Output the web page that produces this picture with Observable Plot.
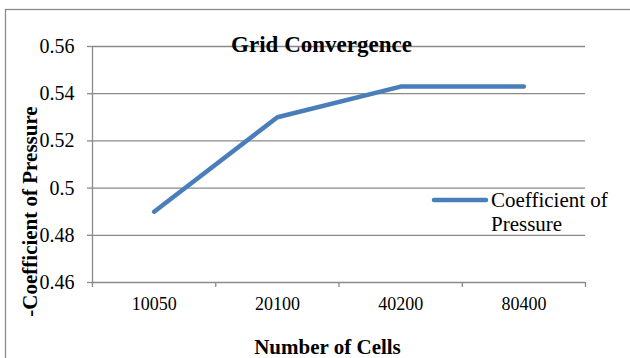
<!DOCTYPE html>
<html>
<head>
<meta charset="utf-8">
<script src="https://cdn.jsdelivr.net/npm/d3@7"></script>
<script src="https://cdn.jsdelivr.net/npm/@observablehq/plot@0.6"></script>
<style>
  html, body { margin: 0; padding: 0; background: #fff; }
  #chart svg { display: block; }
  #chart svg text { font-family: "Liberation Serif", "Times New Roman", serif; }
</style>
</head>
<body>
<div id="chart"></div>
<script>
const categories = ["10050", "20100", "40200", "80400"];
const values = [0.49, 0.53, 0.543, 0.543];
const yTicks = [0.46, 0.48, 0.5, 0.52, 0.54, 0.56];
const yTickLabels = ["0.46", "0.48", "0.5", "0.52", "0.54", "0.56"];
const title = "Grid Convergence";
const xLabel = "Number of Cells";
const yLabel = "-Coefficient of Pressure";
const seriesName = ["Coefficient of", "Pressure"];

const data = categories.map((c, i) => ({i, cat: c, v: values[i]}));
const boundaries = d3.range(categories.length + 1).map(k => k - 0.5);

const W = 630, H = 358;
const grid = "#8a8a8a";
const blue = "#4a7ebb";
const font = "Liberation Serif";

const chart = Plot.plot({
  width: W,
  height: H,
  marginLeft: 92,
  marginRight: 45,
  marginTop: 46,
  marginBottom: 76,
  style: {background: "#fff", color: "#000"},
  x: {type: "linear", domain: [-0.5, categories.length - 0.5]},
  y: {domain: [0.46, 0.56]},
  marks: [
    Plot.ruleY(yTicks.slice(1), {stroke: grid, strokeWidth: 1.3}),
    Plot.ruleY([0.46], {stroke: grid, strokeWidth: 1.3}),
    Plot.ruleX([-0.5], {stroke: grid, strokeWidth: 1.3}),
    Plot.axisY({
      ticks: yTicks,
      tickFormat: (d) => yTickLabels[yTicks.indexOf(d)],
      tickSize: 5,
      tickPadding: 13,
      stroke: grid,
      strokeWidth: 1.3,
      fontSize: 20,
      label: null
    }),
    Plot.axisX({
      ticks: boundaries,
      tickFormat: () => "",
      tickSize: 5,
      stroke: grid,
      strokeWidth: 1.3,
      label: null
    }),
    Plot.axisX({
      ticks: d3.range(categories.length),
      tickFormat: (d) => categories[d],
      tickSize: 0,
      tickPadding: 15,
      fontSize: 18,
      label: null
    }),
    Plot.line(data, {
      x: "i",
      y: "v",
      stroke: blue,
      strokeWidth: 4.5,
      strokeLinecap: "round",
      strokeLinejoin: "round"
    })
  ]
});

const svg = d3.select(chart);

// outer border
svg.insert("rect", ":first-child")
  .attr("x", 5.5).attr("y", 9.5)
  .attr("width", W + 10).attr("height", H + 20)
  .attr("fill", "none").attr("stroke", grid).attr("stroke-width", 1.3);

function addText(x, y, str, size, bold, anchor) {
  return svg.append("text")
    .attr("x", x).attr("y", y)
    .attr("fill", "#000")
    .style("font-family", font)
    .style("font-size", size + "px")
    .style("font-weight", bold ? "bold" : "normal")
    .style("text-anchor", anchor)
    .text(str);
}

addText(321.5, 52, title, 23, true, "middle");
addText(327.5, 354, xLabel, 21, true, "middle");
addText(0, 0, yLabel, 21, true, "middle")
  .attr("transform", "translate(37,211.5) rotate(-90)");

// legend
svg.append("line")
  .attr("x1", 434).attr("x2", 486).attr("y1", 200).attr("y2", 200)
  .attr("stroke", blue).attr("stroke-width", 4.5).attr("stroke-linecap", "round");
addText(491, 207, seriesName[0], 21, false, "start");
addText(491, 231, seriesName[1], 21, false, "start");

document.getElementById("chart").appendChild(chart);
</script>
</body>
</html>
